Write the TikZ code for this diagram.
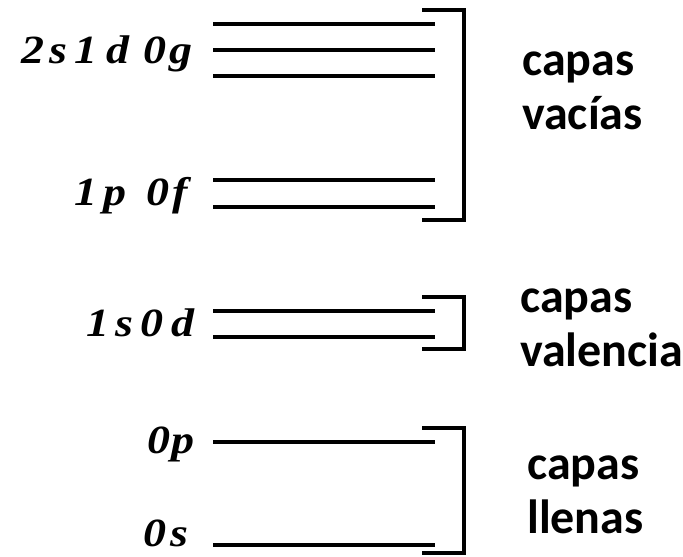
\documentclass[tikz,border=0pt]{standalone}
\usepackage{fontspec}
\setmainfont{Liberation Serif}
\newfontfamily\groupfont{Carlito}
\begin{document}
\begin{tikzpicture}[x=1pt,y=-1pt,
  level/.style={line width=4pt},
  bracketline/.style={line width=4pt, line join=miter},
  orb/.style={anchor=base east, inner sep=0pt,
    font=\fontsize{40}{40}\selectfont\bfseries\itshape},
  group/.style={anchor=base west, inner sep=0pt, align=left,
    font=\groupfont\fontsize{48}{54}\selectfont\bfseries}]
\useasboundingbox (0,0) rectangle (683,557);

% empty shells: 2s 1d 0g and 1p 0f
\foreach \y in {23.7,50,76,180.3,206.7}
  \draw[level] (213,\y) -- (435,\y);
\draw[bracketline] (422,10) -- (464,10) -- (464,220) -- (422,220);

% valence shells: 1s 0d
\foreach \y in {311,336.7}
  \draw[level] (213,\y) -- (435,\y);
\draw[bracketline] (422,297) -- (464,297) -- (464,349) -- (422,349);

% filled shells: 0p and 0s
\foreach \y in {441.7,545}
  \draw[level] (213,\y) -- (435,\y);
\draw[bracketline] (422,428) -- (464,428) -- (464,553) -- (422,553);

% orbital labels (base anchor on the baseline, right end fixed)
\node[orb] (l2s1d0g) at (193,63.3) {\scalebox{1.15}[1]{2\kern4pt s\kern6pt 1\kern8pt d\kern12pt 0\kern3pt g}};
\node[orb] (l1p0f)   at (188,205)  {\scalebox{1.15}[1]{1\kern5pt p\kern17pt 0\kern3pt f}};
\node[orb] (l1s0d)   at (195,336.7){\scalebox{1.15}[1]{1\kern6pt s\kern6pt 0\kern7pt d}};
\node[orb] (l0p)     at (195,453)  {\scalebox{1.15}[1]{0\kern1pt p}};
\node[orb] (l0s)     at (189,546.7){\scalebox{1.15}[1]{0\kern4pt s}};

% group captions (base anchor = baseline of the second line)
\node[group] (empty)   at (522,129)  {capas\\vacías};
\node[group] (valence) at (520,366)  {capas\\valencia};
\node[group] (filled)  at (527,533)  {capas\\llenas};
\end{tikzpicture}
\end{document}
